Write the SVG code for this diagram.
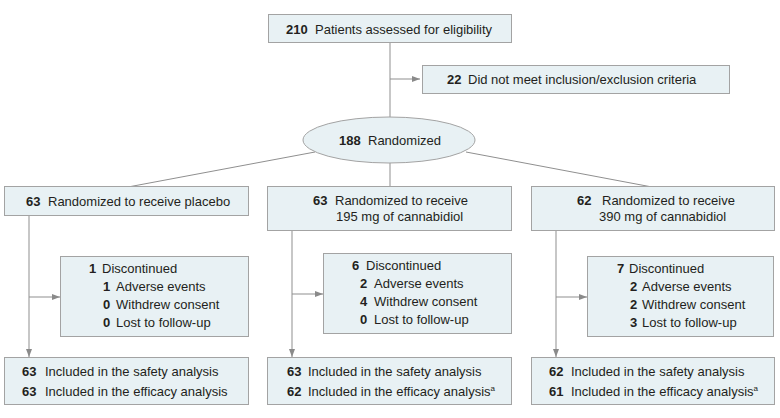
<svg xmlns="http://www.w3.org/2000/svg" width="780" height="418" viewBox="0 0 780 418">
<defs>
<marker id="arr" viewBox="0 0 8 6" refX="8" refY="3" markerWidth="8" markerHeight="6" markerUnits="userSpaceOnUse" orient="auto">
<path d="M0,0 L8,3 L0,6 Z" fill="#8a8a8a"/>
</marker>
</defs>
<style>
.box{fill:#e8f1f4;stroke:#a3a3a3;stroke-width:1}
.ln{fill:none;stroke:#8f8f8f;stroke-width:1}
text{font-family:"Liberation Sans",Arial,sans-serif;font-size:13px;fill:#231f20}
.b{font-weight:bold}
.sup{font-size:8px}
</style>
<rect width="780" height="418" fill="#ffffff"/>
<g id="connectors">
<line class="ln" x1="390" y1="42" x2="390" y2="118"/>
<line class="ln" x1="390" y1="79" x2="420" y2="79" marker-end="url(#arr)"/>
<line class="ln" x1="315" y1="152" x2="128" y2="187"/>
<line class="ln" x1="466" y1="152" x2="652" y2="187"/>
<line class="ln" x1="390" y1="162" x2="390" y2="187"/>
<line class="ln" x1="29" y1="215" x2="29" y2="357" marker-end="url(#arr)"/>
<line class="ln" x1="29" y1="297" x2="60" y2="297" marker-end="url(#arr)"/>
<line class="ln" x1="292" y1="231" x2="292" y2="357" marker-end="url(#arr)"/>
<line class="ln" x1="292" y1="294" x2="323" y2="294" marker-end="url(#arr)"/>
<line class="ln" x1="556" y1="231" x2="556" y2="357" marker-end="url(#arr)"/>
<line class="ln" x1="556" y1="297" x2="587" y2="297" marker-end="url(#arr)"/>
</g>
<g id="assessed">
<rect class="box" x="268.500" y="14.500" width="243" height="28"/>
<text x="286" y="34"><tspan class="b">210</tspan><tspan x="315">Patients assessed for eligibility</tspan></text>
</g>
<g id="excluded">
<rect class="box" x="422.500" y="65.500" width="307" height="28"/>
<text x="447" y="84"><tspan class="b">22</tspan><tspan x="468">Did not meet inclusion/exclusion criteria</tspan></text>
</g>
<g id="randomized">
<ellipse class="box" cx="389" cy="140" rx="86" ry="23"/>
<text x="339" y="145"><tspan class="b">188</tspan><tspan x="368">Randomized</tspan></text>
</g>
<g id="placebo">
<rect class="box" x="4.500" y="186.500" width="244" height="29"/>
<text x="26" y="206"><tspan class="b">63</tspan><tspan x="48">Randomized to receive placebo</tspan></text>
</g>
<g id="cbd195">
<rect class="box" x="267.500" y="186.500" width="244" height="44"/>
<text x="313" y="205"><tspan class="b">63</tspan><tspan x="335">Randomized to receive</tspan></text>
<text x="336" y="221">195 mg of cannabidiol</text>
</g>
<g id="cbd390">
<rect class="box" x="531.500" y="186.500" width="243" height="44"/>
<text x="577" y="205"><tspan class="b">62</tspan><tspan x="602">Randomized to receive</tspan></text>
<text x="599" y="221">390 mg of cannabidiol</text>
</g>
<g id="disc-placebo">
<rect class="box" x="60.500" y="256.500" width="188" height="80"/>
<text x="89" y="273"><tspan class="b">1</tspan><tspan x="102">Discontinued</tspan></text>
<text x="103" y="291"><tspan class="b">1</tspan><tspan x="116">Adverse events</tspan></text>
<text x="103" y="309"><tspan class="b">0</tspan><tspan x="116">Withdrew consent</tspan></text>
<text x="103" y="327"><tspan class="b">0</tspan><tspan x="116">Lost to follow-up</tspan></text>
</g>
<g id="disc-195">
<rect class="box" x="323.500" y="253.500" width="188" height="80"/>
<text x="352" y="270"><tspan class="b">6</tspan><tspan x="366">Discontinued</tspan></text>
<text x="360" y="288"><tspan class="b">2</tspan><tspan x="374">Adverse events</tspan></text>
<text x="360" y="306"><tspan class="b">4</tspan><tspan x="374">Withdrew consent</tspan></text>
<text x="360" y="324"><tspan class="b">0</tspan><tspan x="374">Lost to follow-up</tspan></text>
</g>
<g id="disc-390">
<rect class="box" x="587.500" y="256.500" width="186" height="80"/>
<text x="617" y="273"><tspan class="b">7</tspan><tspan x="629">Discontinued</tspan></text>
<text x="630" y="291"><tspan class="b">2</tspan><tspan x="642">Adverse events</tspan></text>
<text x="630" y="309"><tspan class="b">2</tspan><tspan x="642">Withdrew consent</tspan></text>
<text x="630" y="327"><tspan class="b">3</tspan><tspan x="642">Lost to follow-up</tspan></text>
</g>
<g id="analysis-placebo">
<rect class="box" x="4.500" y="357.500" width="244" height="47"/>
<text x="22" y="376"><tspan class="b">63</tspan><tspan x="45">Included in the safety analysis</tspan></text>
<text x="22" y="396"><tspan class="b">63</tspan><tspan x="45">Included in the efficacy analysis</tspan></text>
</g>
<g id="analysis-195">
<rect class="box" x="267.500" y="357.500" width="244" height="47"/>
<text x="287" y="376"><tspan class="b">63</tspan><tspan x="308">Included in the safety analysis</tspan></text>
<text x="287" y="396"><tspan class="b">62</tspan><tspan x="308">Included in the efficacy analysis</tspan><tspan class="sup" dy="-5">a</tspan></text>
</g>
<g id="analysis-390">
<rect class="box" x="531.500" y="357.500" width="243" height="47"/>
<text x="549" y="376"><tspan class="b">62</tspan><tspan x="571">Included in the safety analysis</tspan></text>
<text x="549" y="396"><tspan class="b">61</tspan><tspan x="571">Included in the efficacy analysis</tspan><tspan class="sup" dy="-5">a</tspan></text>
</g>
</svg>
